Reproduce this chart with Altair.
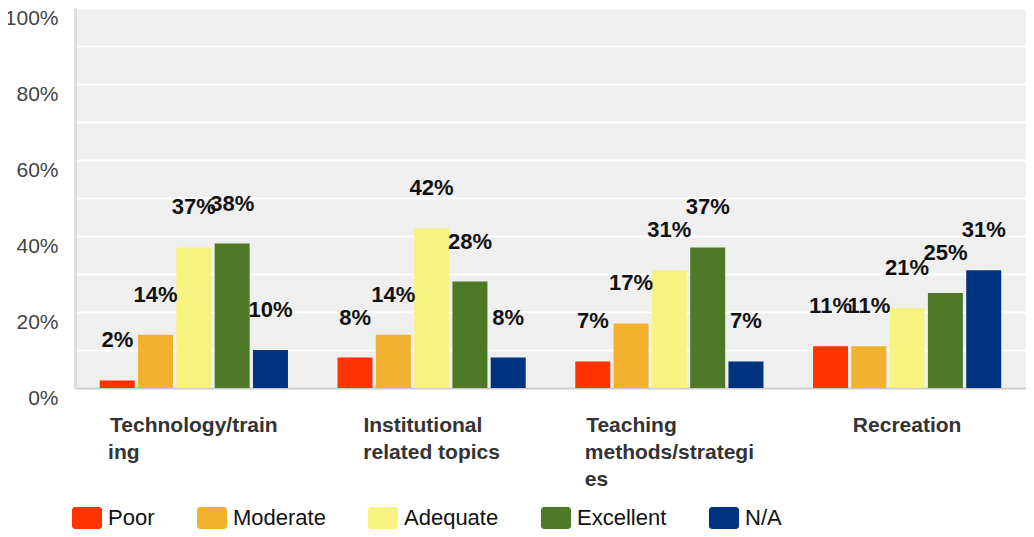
import altair as alt
import pandas as pd

categories = ["Technology/training", "Institutional related topics",
              "Teaching methods/strategies", "Recreation"]
label_lines = [["Technology/train", "ing"],
               ["Institutional", "related topics"],
               ["Teaching", "methods/strategi", "es"],
               ["Recreation"]]
ratings = ["Poor", "Moderate", "Adequate", "Excellent", "N/A"]
poor = [2, 8, 7, 11]
moderate = [14, 14, 17, 11]
adequate = [37, 42, 31, 21]
excellent = [38, 28, 37, 25]
na = [10, 8, 7, 31]
colors = ["#ff3300", "#f1b02e", "#f8f380", "#4e7a27", "#00337f"]

# approximate Arial Bold advance widths (per 1000 em) to left-align wrapped lines
CW = {"T": 611, "e": 556, "c": 556, "h": 611, "n": 611, "o": 611, "l": 278,
      "g": 611, "y": 556, "/": 278, "t": 333, "r": 389, "a": 556, "i": 278,
      "I": 278, "s": 556, "u": 611, "d": 611, " ": 278, "p": 611, "m": 889,
      "R": 722}


def tw(s):
    return sum(CW.get(ch, 556) for ch in s)


def padded(lines):
    m = max(tw(l) for l in lines)
    out = []
    for l in lines:
        n = round((m - tw(l)) / 278)
        out.append(l + ("\u00a0" * n + "\u200b" if n > 0 else ""))
    return "|".join(out)


tick_labels = [padded(ls) for ls in label_lines]

series = [poor, moderate, adequate, excellent, na]
rows = []
for i, lab in enumerate(tick_labels):
    for j, r in enumerate(ratings):
        v = series[j][i]
        rows.append({"label": lab, "rating": r, "value": v, "txt": f"{v}%"})
df = pd.DataFrame(rows)

base = alt.Chart(df).encode(
    x=alt.X("label:N", sort=tick_labels, title=None,
            scale=alt.Scale(paddingInner=0, paddingOuter=0),
            axis=alt.Axis(labelExpr="split(datum.label, '|')", labelAngle=0,
                          labelFontSize=21, labelFontWeight="bold",
                          labelColor="#333333", labelLineHeight=27,
                          labelPadding=26, labelBaseline="top", ticks=False,
                          domainColor="#cccccc", domainWidth=2, grid=False,
                          labelLimit=400)),
    xOffset=alt.XOffset("rating:N", sort=ratings,
                        scale=alt.Scale(paddingInner=0.086, paddingOuter=0.647)),
    y=alt.Y("value:Q", title=None,
            scale=alt.Scale(domain=[0, 100], nice=False),
            axis=alt.Axis(values=list(range(0, 101, 10)),
                          labelExpr="datum.value % 20 == 0 ? datum.value + '%' : ''",
                          grid=True, gridColor="#ffffff", gridWidth=2,
                          ticks=False, domainColor="#dddddd", domainWidth=3,
                          labelFontSize=21, labelColor="#444444",
                          labelPadding=17, labelOffset=10)),
)

bars = base.mark_bar().encode(
    color=alt.Color("rating:N", sort=ratings,
                    scale=alt.Scale(domain=ratings, range=colors),
                    legend=alt.Legend(
                        title=None, orient="none", legendX=-3, legendY=495,
                        direction="horizontal", columns=5,
                        symbolType="M-0.8,-0.733H0.8A0.2,0.2 0 0 1 1,-0.533V0.533A0.2,0.2 0 0 1 0.8,0.733H-0.8A0.2,0.2 0 0 1 -1,0.533V-0.533A0.2,0.2 0 0 1 -0.8,-0.733Z",
                        symbolSize=900, symbolStrokeWidth=0, symbolOpacity=1,
                        labelFontSize=22, labelColor="#111111",
                        labelOffset=6, columnPadding=42, padding=0)),
)

texts = base.mark_text(dy=-40, fontSize=22, fontWeight="bold",
                       color="#111111", baseline="middle").encode(text="txt:N")

chart = alt.layer(bars, texts).properties(
    width=951, height=380,
    padding={"left": 67, "top": 0, "right": 0, "bottom": 141},
    autosize=alt.AutoSizeParams(type="none"),
).configure(
    font="Liberation Sans"
).configure_view(fill="#efefef", stroke="transparent")

chart.save("out.html", embed_options={"renderer": "svg", "actions": False})
